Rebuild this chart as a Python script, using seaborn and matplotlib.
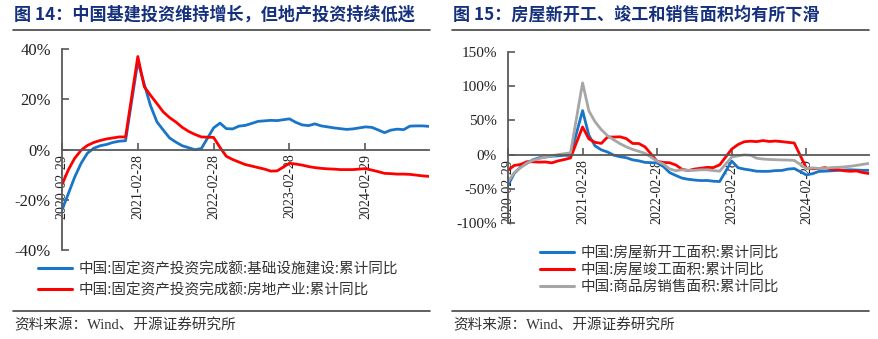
import numpy as np
import pandas as pd
import matplotlib
matplotlib.use("Agg")
import matplotlib.pyplot as plt
import seaborn as sns
from matplotlib.lines import Line2D

sns.set_theme(style="white")
plt.rcParams['font.family'] = ['Liberation Serif', 'Noto Sans CJK SC', 'DejaVu Sans']

# ---------------- data ----------------
years = [2020, 2021, 2022, 2023, 2024]
months = list(range(2, 13))  # Feb..Dec (Jan not published)
dates = [pd.Timestamp(year=y, month=m, day=1) + pd.offsets.MonthEnd(0) for y in years for m in months]

infra = [-24.0, -17.5, -11.0, -5.5, -1.5, 0.5, 1.5, 2.0, 2.8, 3.3, 3.5,
         35.0, 26.0, 17.5, 11.0, 7.8, 4.6, 2.9, 1.5, 0.7, -0.1, 0.4,
         8.6, 10.5, 8.3, 8.2, 9.3, 9.6, 10.4, 11.2, 11.4, 11.6, 11.5,
         12.2, 10.8, 9.8, 9.5, 10.2, 9.4, 9.0, 8.6, 8.3, 8.0, 8.2,
         9.0, 8.8, 7.8, 6.7, 7.7, 8.1, 7.9, 9.3, 9.4, 9.4, 9.2]
realestate = [-14.0, -8.0, -3.5, -0.3, 1.6, 2.8, 3.6, 4.2, 4.6, 5.0, 5.0,
              37.0, 25.0, 21.6, 18.3, 15.0, 12.7, 10.9, 8.8, 7.2, 6.0, 5.0,
              4.8, 0.8, -2.7, -4.0, -5.0, -6.0, -6.6, -7.2, -7.8, -8.6, -8.5,
              -5.5, -5.8, -6.2, -6.8, -7.2, -7.5, -7.7, -7.8, -8.0, -8.0, -8.0,
              -7.6, -8.2, -8.8, -9.5, -9.6, -9.8, -9.8, -9.9, -10.2, -10.5, -10.7]

newstart = [-44.9, -27.2, -18.4, -12.8, -7.6, -4.5, -3.6, -2.4, -1.8, -1.0, -1.2,
            64.3, 28.2, 12.8, 6.9, 3.8, -0.9, -3.2, -4.5, -7.7, -9.1, -11.4,
            -12.2, -17.5, -26.3, -30.6, -34.4, -36.1, -37.2, -38.0, -37.8, -38.9, -39.4,
            -9.4, -19.2, -21.2, -22.6, -24.3, -24.5, -24.4, -23.4, -23.2, -21.2, -20.4,
            -29.7, -27.8, -24.6, -24.2, -23.7, -23.2, -22.5, -22.2, -22.6, -23.0, -23.0]
completion = [-22.9, -15.8, -14.5, -10.4, -10.5, -11.0, -10.8, -12.1, -9.2, -7.3, -4.9,
              40.4, 22.9, 17.9, 16.4, 25.7, 25.7, 26.0, 23.4, 16.3, 16.2, 11.2,
              -9.8, -11.5, -11.9, -15.3, -21.5, -23.3, -21.1, -19.9, -18.7, -19.0, -15.0,
              8.0, 14.7, 18.8, 19.6, 19.0, 20.5, 19.2, 19.8, 19.0, 17.9, 17.0,
              -20.2, -20.7, -20.4, -19.0, -21.8, -21.8, -23.6, -24.4, -23.9, -26.2, -27.7]
sales = [-39.9, -26.3, -19.3, -12.3, -8.4, -5.8, -3.3, -1.8, 0.0, 1.3, 2.6,
         104.9, 63.8, 48.1, 36.3, 27.7, 21.5, 15.9, 11.3, 7.6, 4.8, 1.9,
         -9.6, -13.8, -20.9, -23.6, -22.2, -23.1, -23.0, -22.2, -22.3, -23.3, -24.3,
         -3.6, -1.8, -0.4, -0.9, -5.3, -6.5, -7.1, -7.5, -7.8, -8.0, -8.5,
         -20.5, -19.4, -20.2, -20.3, -19.0, -18.6, -18.0, -17.1, -15.8, -14.3, -12.9]

left_names = ["中国:固定资产投资完成额:基础设施建设:累计同比",
              "中国:固定资产投资完成额:房地产业:累计同比"]
right_names = ["中国:房屋新开工面积:累计同比",
               "中国:房屋竣工面积:累计同比",
               "中国:商品房销售面积:累计同比"]
left_yticks = [-40, -20, 0, 20, 40]
right_yticks = [-100, -50, 0, 50, 100, 150]
tick_dates = [pd.Timestamp(f"{y}-02-01") + pd.offsets.MonthEnd(0) for y in years]
tick_labels = [d.strftime("%Y-%m-%d") for d in tick_dates]

title_left = "图 14：中国基建投资维持增长，但地产投资持续低迷"
title_right = "图 15：房屋新开工、竣工和销售面积均有所下滑"
source = "资料来源：Wind、开源证券研究所"

BLUE = "#1A75C8"
RED = "#FF0000"
GRAY = "#A6A6A6"
TITLE_C = "#15307C"
AX_C = "#595959"

df_l = pd.DataFrame({"date": dates * 2,
                     "value": infra + realestate,
                     "series": [left_names[0]] * len(dates) + [left_names[1]] * len(dates)})
df_r = pd.DataFrame({"date": dates * 3,
                     "value": newstart + completion + sales,
                     "series": sum([[n] * len(dates) for n in right_names], [])})

W, H = 879, 339
fig = plt.figure(figsize=(W / 100, H / 100), dpi=100)

def fx(px):
    return px / W

def fy(py):
    return 1 - py / H

ax1 = fig.add_axes([fx(62), fy(250), fx(429) - fx(62), fy(49) - fy(250)])
ax2 = fig.add_axes([fx(508), fy(223), fx(869) - fx(508), fy(52) - fy(223)])

sns.lineplot(data=df_l, x="date", y="value", hue="series", palette=[BLUE, RED],
             linewidth=2.0, ax=ax1, legend=False)
sns.lineplot(data=df_r, x="date", y="value", hue="series", palette=[BLUE, RED, GRAY],
             linewidth=2.0, ax=ax2, legend=False)

xmin = pd.Timestamp("2020-02-29")
xmax = pd.Timestamp("2024-12-31")

def style(ax, yticks, ylim, yfs):
    ax.set_xlim(xmin, xmax)
    ax.set_ylim(*ylim)
    ax.set_xlabel("")
    ax.set_ylabel("")
    for s in ["top", "right"]:
        ax.spines[s].set_visible(False)
    ax.spines["bottom"].set_position(("data", 0))
    for s in ["left", "bottom"]:
        ax.spines[s].set_color(AX_C)
        ax.spines[s].set_linewidth(1.3)
    ax.set_yticks(yticks)
    ax.set_yticklabels([f"{v}%" for v in yticks], fontsize=yfs, family=['Liberation Serif'])
    ax.set_xticks(tick_dates)
    ax.set_xticklabels(tick_labels, rotation=90, fontsize=10, family=['Liberation Serif'])
    ax.tick_params(axis="both", direction="in", length=5, width=1.2, color=AX_C,
                   left=True, bottom=True, labelcolor="#222222")
    ax.tick_params(axis="y", pad=8)
    ax.tick_params(axis="x", pad=3)
    ax.grid(False)
    ax.set_facecolor("none")

style(ax1, left_yticks, (-40, 40), 12)
style(ax2, right_yticks, (-100, 150), 11)

# legends
cjk = ['Noto Sans CJK SC', 'DejaVu Sans']
h1 = [Line2D([], [], color=c, lw=2.2) for c in [BLUE, RED]]
fig.legend(h1, left_names, loc="upper left", bbox_to_anchor=(fx(38), fy(262)),
           frameon=False, prop={'family': cjk, 'size': 10.5}, handlelength=2.3,
           handletextpad=0.45, labelspacing=0.45, borderpad=0, borderaxespad=0,
           labelcolor="#333333")
h2 = [Line2D([], [], color=c, lw=2.2) for c in [BLUE, RED, GRAY]]
fig.legend(h2, right_names, loc="upper left", bbox_to_anchor=(fx(540), fy(246)),
           frameon=False, prop={'family': cjk, 'size': 10.5}, handlelength=2.3,
           handletextpad=0.45, labelspacing=0.2, borderpad=0, borderaxespad=0,
           labelcolor="#333333")

# titles, rules, sources
for x0, x1, t in [(13, 430, title_left), (452, 869, title_right)]:
    fig.text(fx(x0 + 1), fy(15), t, fontsize=12.3, fontweight="bold", color=TITLE_C,
             family=cjk, va="center", ha="left")
    fig.add_artist(Line2D([fx(x0), fx(x1)], [fy(30), fy(30)], color="#444444", lw=1.2))
    fig.add_artist(Line2D([fx(x0), fx(x1)], [fy(311), fy(311)], color="#444444", lw=1.2))
    fig.text(fx(x0 + 1), fy(325), source, fontsize=10.5, color="#333333",
             family=['Liberation Serif', 'Noto Sans CJK SC'], va="center", ha="left")

fig.savefig("out.png", dpi=100)
